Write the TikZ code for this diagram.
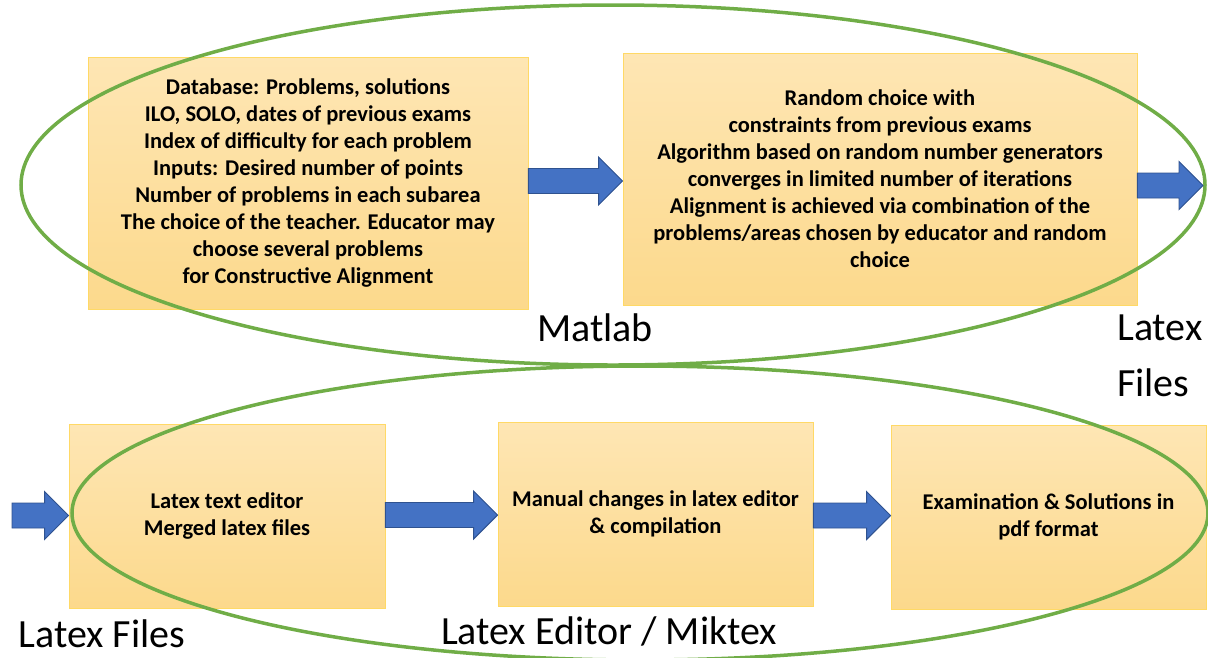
\documentclass[tikz,border=0pt]{standalone}
\usepackage{fontspec}
\setmainfont{Carlito}
\usetikzlibrary{positioning,calc}
\definecolor{boxtop}{HTML}{FEE6B4}
\definecolor{boxbot}{HTML}{FCD98C}
\definecolor{boxedge}{HTML}{FFD966}
\definecolor{loop}{HTML}{70AD47}
\definecolor{arrfill}{HTML}{4472C4}
\definecolor{arredge}{HTML}{2F528F}
\tikzset{
  box/.style={draw=boxedge, line width=0.8pt, top color=boxtop, bottom color=boxbot,
              align=center, inner sep=4pt, font=\bfseries\fontsize{22.5}{27}\selectfont},
  ring/.style={draw=loop, line width=3.5pt},
  bigarrow/.style={fill=arrfill, draw=arredge, line width=0.9pt, line join=miter},
  tag/.style={font=\fontsize{40}{48}\selectfont, inner sep=0pt},
}
% block arrow from #1 to the tip at #2
\newcommand{\blockarr}[2]{%
  \draw[bigarrow] let \p1=($(#1)!.5!(#2)$), \p2=(#1), \p3=(#2) in
    (\x2,\y1+12.5pt) -- (\x3-24pt,\y1+12.5pt) -- (\x3-24pt,\y1+24pt)
    -- (\x3,\y1) -- (\x3-24pt,\y1-24pt) -- (\x3-24pt,\y1-12.5pt)
    -- (\x2,\y1-12.5pt) -- cycle;}

\begin{document}
\begin{tikzpicture}[x=1pt, y=-1pt]
  \useasboundingbox (0,0) rectangle (1208,657);
  % top row
  \node[box, minimum width=440pt, minimum height=252pt] (a) at (308,183)
    {Database:  Problems, solutions\\ILO, SOLO, dates of previous exams\\
     Index of difficulty for each problem\\Inputs: Desired number of points\\
     Number of problems in each subarea\\The choice of the teacher. Educator may\\
     choose several problems\\for Constructive Alignment};
  \node[box, minimum width=514pt, minimum height=252pt] (b) at (880,179)
    {Random choice with\\constraints from previous exams\\
     Algorithm based on random number generators\\converges  in limited number of iterations\\
     Alignment is achieved  via combination of the\\problems/areas chosen by educator and random\\choice};
  % bottom row
  \node[box, minimum width=316pt, minimum height=184pt] (c) at (227,516)
    {Latex text editor\\Merged latex files};
  \node[box, minimum width=315pt, minimum height=184pt] (d) at (655.5,514)
    {Manual changes in latex editor\\\& compilation};
  \node[box, minimum width=315pt, minimum height=184pt] (e) at (1048.5,517)
    {Examination \& Solutions in\\pdf format};
  % groups
  \draw[ring] (613,185) ellipse [x radius=592, y radius=180];
  \draw[ring] (640,513) ellipse [x radius=568, y radius=147];
  % arrows
  \coordinate (out) at (1203,192);
  \coordinate (in) at (12,515);
  \blockarr{a.east}{b.west}
  \blockarr{b.east}{out}
  \blockarr{in}{c.west}
  \blockarr{c.east}{d.west}
  \blockarr{d.east}{e.west}
  % labels
  \node[tag] (matlab) at (595,328) {Matlab};
  \node[tag, anchor=west, align=left, font=\fontsize{40}{56}\selectfont] (lf1) at (1117,356) {Latex\\Files};
  \node[tag] (lf2) at (102,634) {Latex Files};
  \node[tag] (ed) at (609,631) {Latex Editor / Miktex};
\end{tikzpicture}
\end{document}
